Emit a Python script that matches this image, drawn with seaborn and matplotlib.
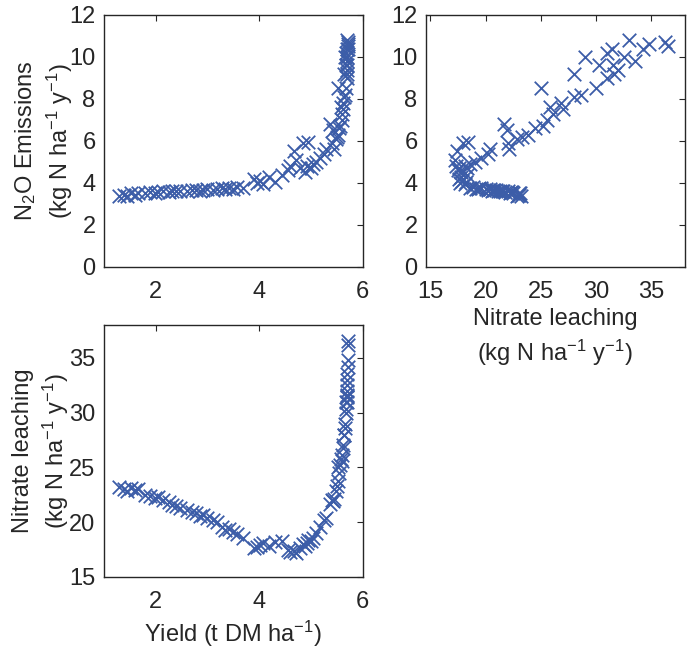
import matplotlib
matplotlib.use('Agg')
import matplotlib.pyplot as plt
import seaborn as sns
import pandas as pd

# model runs: yield (t DM/ha), N2O emissions and nitrate leaching (kg N/ha/y)
yield_t = [1.30, 1.38, 1.45, 1.52, 1.60, 1.65, 1.80, 1.90, 1.98, 2.05,
           2.15, 2.25, 2.32, 2.40, 2.48, 2.60, 2.70, 2.78, 2.85, 2.92,
           3.00, 3.10, 3.18, 3.28, 3.35, 3.42, 3.50, 3.58, 3.68,
           3.90, 3.95, 4.02, 4.08, 4.20, 4.30, 4.45, 4.55, 4.60, 4.68,
           4.72, 4.80, 4.85, 4.88, 4.92, 4.95, 5.00, 5.05, 5.10, 5.18,
           5.25, 5.30,
           5.38, 5.40, 5.42, 5.45, 5.48, 5.50, 5.52, 5.53, 5.55, 5.57,
           5.58, 5.60, 5.61, 5.62, 5.63, 5.64, 5.65, 5.66, 5.66, 5.67,
           5.68, 5.68, 5.69, 5.69, 5.70, 5.70, 5.70, 5.70, 5.71, 5.71,
           5.71, 5.71, 5.70, 5.70]
n2o = [3.40, 3.45, 3.40, 3.50, 3.45, 3.50, 3.50, 3.55, 3.50, 3.55,
       3.60, 3.55, 3.60, 3.60, 3.60, 3.60, 3.65, 3.65, 3.60, 3.65,
       3.70, 3.65, 3.70, 3.75, 3.70, 3.75, 3.70, 3.80, 3.75,
       4.20, 4.00, 4.10, 3.95, 4.30, 4.05, 4.40, 4.60, 4.80, 5.50,
       5.10, 4.70, 5.90, 4.50, 4.80, 5.95, 4.70, 4.90, 5.00, 5.20,
       5.40, 5.60,
       6.80, 5.90, 6.50, 5.60, 6.10, 6.20, 6.30, 8.50, 6.60, 6.70,
       7.60, 7.00, 7.30, 7.80, 7.50, 8.10, 9.20, 8.20, 10.0, 8.50,
       9.60, 10.2, 9.00, 10.4, 9.40, 9.20, 10.8, 9.80, 10.4, 10.6,
       10.7, 10.5, 10.0, 9.60]
leach = [23.2, 23.0, 22.8, 23.1, 22.9, 23.0, 22.5, 22.4, 22.2, 22.3,
         22.0, 21.8, 21.6, 21.5, 21.3, 21.1, 20.9, 20.8, 20.6, 20.7,
         20.4, 20.2, 20.0, 19.6, 19.3, 19.4, 19.1, 18.9, 18.6,
         17.6, 17.7, 17.9, 18.1, 17.8, 18.2, 18.3, 17.5, 17.3, 17.4,
         17.2, 17.6, 18.0, 17.8, 18.1, 18.4, 18.3, 18.6, 19.0, 19.6,
         20.2, 20.4,
         21.7, 22.0, 21.9, 22.1, 22.8, 23.3, 23.8, 25.0, 24.5, 25.2,
         25.8, 25.6, 26.1, 26.8, 27.0, 28.0, 28.0, 28.6, 29.0, 30.0,
         30.3, 31.0, 31.0, 31.4, 32.0, 31.6, 33.0, 33.5, 34.2, 34.8,
         36.2, 36.5, 32.5, 31.5]

df = pd.DataFrame({'yield': yield_t, 'n2o': n2o, 'leach': leach})

sns.set_style('white')
plt.rcParams['font.family'] = ['Liberation Sans', 'DejaVu Sans']
plt.rcParams['mathtext.fontset'] = 'custom'
plt.rcParams['mathtext.rm'] = 'Liberation Sans'
plt.rcParams['mathtext.it'] = 'Liberation Sans:italic'
plt.rcParams['mathtext.bf'] = 'Liberation Sans:bold'

txt = '#262626'
blue = '#3C5DA8'
unit = '(kg N ha$^{-1}$ y$^{-1}$)'

fig = plt.figure(figsize=(6.88, 6.48), dpi=100)
ax1 = fig.add_axes([0.151, 0.588, 0.376, 0.389])
ax2 = fig.add_axes([0.619, 0.588, 0.376, 0.389])
ax3 = fig.add_axes([0.151, 0.1096, 0.376, 0.389])

panels = [
    (ax1, 'yield', 'n2o', (1, 6), (0, 12), [2, 4, 6], range(0, 13, 2)),
    (ax2, 'leach', 'n2o', (14.6, 38), (0, 12), range(15, 40, 5), range(0, 13, 2)),
    (ax3, 'yield', 'leach', (1, 6), (15, 38), [2, 4, 6], range(15, 40, 5)),
]
for ax, xc, yc, xl, yl, xt, yt in panels:
    sns.scatterplot(data=df, x=xc, y=yc, marker='x', color=blue, s=95,
                    linewidth=1.3, ax=ax)
    ax.set_xlim(*xl)
    ax.set_ylim(*yl)
    ax.set_xticks(list(xt))
    ax.set_yticks(list(yt))
    ax.tick_params(direction='in', length=4, width=0.8, top=True, right=True,
                   labelsize=17, colors=txt, labelcolor=txt)
    ax.tick_params(axis='x', pad=10)
    ax.tick_params(axis='y', pad=6)
    for sp in ax.spines.values():
        sp.set_color(txt)
        sp.set_linewidth(1.0)
    ax.set_xlabel('')
    ax.set_ylabel('')

ax1.set_ylabel('N$_2$O Emissions\n' + unit, fontsize=17, color=txt,
               labelpad=-4, linespacing=1.3)
ax2.set_xlabel('Nitrate leaching\n' + unit, fontsize=17, color=txt,
               labelpad=4, linespacing=1.3)
ax3.set_ylabel('Nitrate leaching\n' + unit, fontsize=17, color=txt,
               labelpad=-1, linespacing=1.3)
ax3.set_xlabel('Yield (t DM ha$^{-1}$)', fontsize=17, color=txt, labelpad=4)

fig.savefig('out.png', dpi=100)
